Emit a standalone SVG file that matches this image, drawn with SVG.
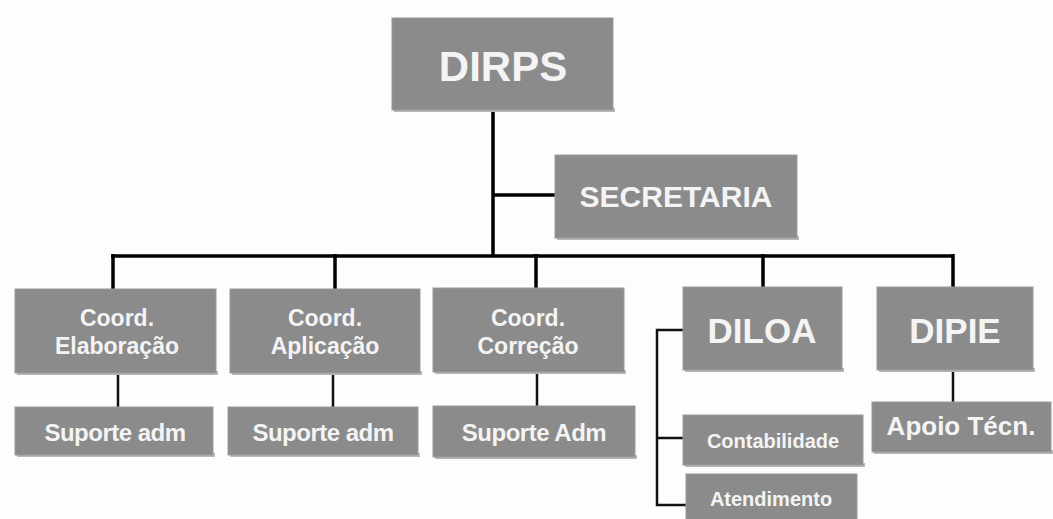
<svg xmlns="http://www.w3.org/2000/svg" width="1053" height="519" viewBox="0 0 1053 519">
<defs>
<style>
.box{fill:#8b8b8b;stroke:#9a9a9a;stroke-width:1}
.sh{fill:#b8b8b8}
.t{font-family:"Liberation Sans",Arial,sans-serif;font-weight:bold;fill:#f4f4f4;text-anchor:middle}
.ln{stroke:#000;stroke-width:3.5;fill:none}
.ln2{stroke:#111;stroke-width:2.5;fill:none}
</style>
</defs>
<rect width="1053" height="519" fill="#fdfdfd"/>
<g id="connectors">
<path class="ln" d="M493 110 V256 M493 195 H555 M111 256 H953 M113 254 V289 M335 254 V289 M536 254 V288 M763 254 V287 M953 254 V287"/>
<path class="ln2" d="M118 373 V407 M333 373 V407 M537 372 V406 M953 370 V402 M683 330 H657 V505 H686 M657 438 H683"/>
</g>
<g id="dirps"><rect class="sh" x="394" y="108" width="221" height="4"/><rect class="box" x="392" y="18" width="221" height="92"/><text class="t" x="503" y="81" font-size="42">DIRPS</text></g>
<g id="secretaria"><rect class="sh" x="557" y="236" width="242" height="4"/><rect class="box" x="555" y="155" width="242" height="83"/><text class="t" x="676" y="207" font-size="30">SECRETARIA</text></g>
<g id="coord-elab"><rect class="sh" x="17" y="371" width="201" height="4"/><rect class="box" x="15" y="289" width="201" height="84"/><text class="t" x="117" y="326" font-size="23">Coord.</text><text class="t" x="117" y="354" font-size="23">Elaboração</text></g>
<g id="coord-apl"><rect class="sh" x="232" y="371" width="190" height="4"/><rect class="box" x="230" y="289" width="190" height="84"/><text class="t" x="325" y="326" font-size="23">Coord.</text><text class="t" x="325" y="354" font-size="23">Aplicação</text></g>
<g id="coord-corr"><rect class="sh" x="435" y="370" width="191" height="4"/><rect class="box" x="433" y="288" width="191" height="84"/><text class="t" x="528" y="326" font-size="23">Coord.</text><text class="t" x="528" y="354" font-size="23">Correção</text></g>
<g id="diloa"><rect class="sh" x="685" y="368" width="159" height="4"/><rect class="box" x="683" y="287" width="159" height="83"/><text class="t" x="762" y="343" font-size="35">DILOA</text></g>
<g id="dipie"><rect class="sh" x="879" y="368" width="156" height="4"/><rect class="box" x="877" y="287" width="156" height="83"/><text class="t" x="955" y="343" font-size="35">DIPIE</text></g>
<g id="suporte1"><rect class="sh" x="17" y="453" width="198" height="4"/><rect class="box" x="15" y="407" width="198" height="48"/><text class="t" x="115" y="441" font-size="24" letter-spacing="-0.5">Suporte adm</text></g>
<g id="suporte2"><rect class="sh" x="230" y="453" width="190" height="4"/><rect class="box" x="228" y="407" width="190" height="48"/><text class="t" x="323" y="441" font-size="24" letter-spacing="-0.5">Suporte adm</text></g>
<g id="suporte3"><rect class="sh" x="435" y="455" width="202" height="4"/><rect class="box" x="433" y="406" width="202" height="51"/><text class="t" x="534" y="441" font-size="24" letter-spacing="-0.5">Suporte Adm</text></g>
<g id="apoio"><rect class="sh" x="874" y="450" width="179" height="4"/><rect class="box" x="872" y="402" width="179" height="50"/><text class="t" x="961" y="435" font-size="26">Apoio Técn.</text></g>
<g id="contabilidade"><rect class="sh" x="685" y="463" width="180" height="4"/><rect class="box" x="683" y="415" width="180" height="50"/><text class="t" x="773" y="448" font-size="20">Contabilidade</text></g>
<g id="atendimento"><rect class="box" x="686" y="474" width="171" height="50"/><text class="t" x="771" y="506" font-size="20">Atendimento</text></g>
</svg>
